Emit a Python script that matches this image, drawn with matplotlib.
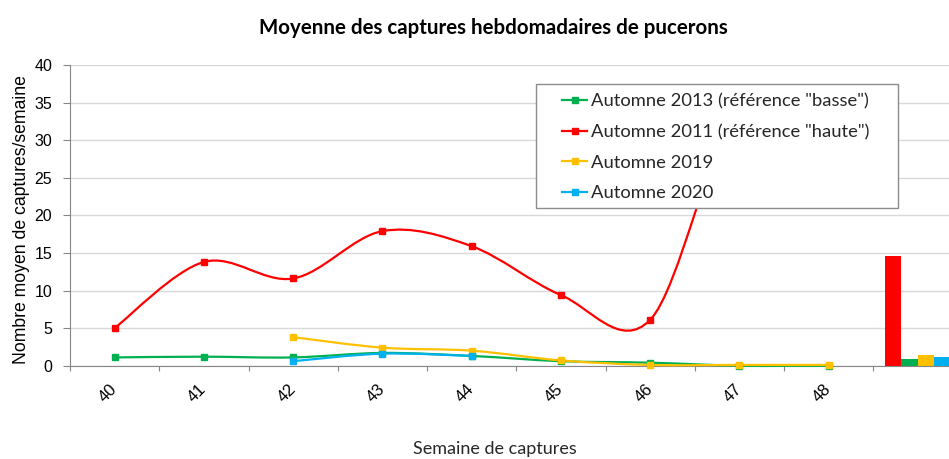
import numpy as np
import matplotlib
matplotlib.use('Agg')
import matplotlib.pyplot as plt
from matplotlib.path import Path
from matplotlib.patches import PathPatch, Rectangle
from matplotlib.lines import Line2D

plt.rcParams['font.family'] = ['Liberation Sans', 'DejaVu Sans']

# données (lecture du graphique)
semaines = ['40', '41', '42', '43', '44', '45', '46', '47', '48', '']
auto_2013 = [1.1, 1.2, 1.1, 1.7, 1.3, 0.6, 0.4, 0.0, 0.0]
auto_2011 = [5.0, 13.8, 11.6, 17.9, 15.9, 9.4, 6.1, 34.0, 28.0]   # 47/48 cachés par la légende
auto_2019 = [None, None, 3.8, 2.4, 2.0, 0.7, 0.1, 0.1, 0.1]
auto_2020 = [None, None, 0.6, 1.6, 1.3, None, None, None, None]
moyennes = [14.6, 0.9, 1.4, 1.2]   # barres : 2011, 2013, 2019, 2020

noms = ['Automne 2013 (référence "basse")', 'Automne 2011 (référence "haute")',
        'Automne 2019', 'Automne 2020']
couleurs = {'2013': '#00B050', '2011': '#FF0000', '2019': '#FFC000', '2020': '#00B0F0'}


def courbe_lisse(xs, ys):
    # bezier facon "ligne lissée" d'Excel
    verts = [(xs[0], ys[0])]
    codes = [Path.MOVETO]
    n = len(xs)
    for i in range(n - 1):
        a = i - 1 if i > 0 else i
        d = i + 2 if i + 2 < n else i + 1
        c1 = (xs[i] + (xs[i + 1] - xs[a]) / 6, ys[i] + (ys[i + 1] - ys[a]) / 6)
        c2 = (xs[i + 1] - (xs[d] - xs[i]) / 6, ys[i + 1] - (ys[d] - ys[i]) / 6)
        verts += [c1, c2, (xs[i + 1], ys[i + 1])]
        codes += [Path.CURVE4] * 3
    return Path(verts, codes)


fig = plt.figure(figsize=(9.49, 4.59), dpi=100)
ax = fig.add_axes([70 / 949, 1 - 365.7 / 459, 892.5 / 949, 300.7 / 459])

series = [(auto_2013, '2013', False), (auto_2011, '2011', True),
          (auto_2019, '2019', False), (auto_2020, '2020', False)]
for vals, cle, clip in series:
    xs = [i for i, v in enumerate(vals) if v is not None]
    ys = [v for v in vals if v is not None]
    patch = PathPatch(courbe_lisse(xs, ys), facecolor='none', edgecolor=couleurs[cle],
                      lw=1.6, zorder=3, clip_on=clip)
    ax.add_patch(patch)
    ax.plot(xs, ys, ls='none', marker='s', ms=4.8, color=couleurs[cle], zorder=4, clip_on=clip)

# barres de la dernière catégorie
decal = [-0.275, -0.092, 0.092, 0.275]
for off, val, cle in zip(decal, moyennes, ['2011', '2013', '2019', '2020']):
    ax.bar(9 + off, val, width=0.183, color=couleurs[cle], zorder=2)

ax.set_xlim(-0.5, 9.5)
ax.set_ylim(0, 40)
ax.set_yticks(range(0, 41, 5))
ax.tick_params(axis='y', labelsize=11.5, length=4.8, width=0.8, color='#868686', pad=8)
ax.set_xticks(range(10))
ax.set_xticklabels(semaines)
ax.set_xticks(np.arange(-0.5, 10, 1), minor=True)
ax.tick_params(axis='x', which='major', length=0, pad=15, labelsize=12)
ax.tick_params(axis='x', which='minor', length=3.8, width=0.8, color='#868686')
for lab in ax.get_xticklabels():
    lab.set_rotation(45)
    lab.set_rotation_mode('anchor')
    lab.set_ha('right')
    lab.set_va('center')
ax.grid(axis='y', color='#D9D9D9', lw=1)
ax.set_axisbelow(True)
for s in ['top', 'right']:
    ax.spines[s].set_visible(False)
ax.spines['left'].set_color('#868686')
ax.spines['bottom'].set_color('#868686')

fig.text(493 / 949, 1 - 28 / 459, 'Moyenne des captures hebdomadaires de pucerons',
         ha='center', va='center', fontsize=14.8, weight='bold', family=['Lato', 'DejaVu Sans'])
fig.text(495 / 949, 1 - 449 / 459, 'Semaine de captures', ha='center', va='center',
         fontsize=13, family=['Lato', 'DejaVu Sans'], color='#262626')
fig.text(21.7 / 949, 1 - 220 / 459, 'Nombre moyen de captures/semaine', rotation=90,
         ha='center', va='center', fontsize=12.7)

# légende
cadre = Rectangle((535.7 / 949, 1 - 208 / 459), 362.3 / 949, 124 / 459, transform=fig.transFigure,
                  facecolor='white', edgecolor='#8C8C8C', lw=1, zorder=10, clip_on=False)
ax.add_artist(cadre)
poignees = [Line2D([], [], color=couleurs[c], lw=1.6, marker='s', ms=4.8)
            for c in ['2013', '2011', '2019', '2020']]
leg = ax.legend(poignees, noms, loc='upper left', bbox_to_anchor=(561.7 / 949, 1 - 93.5 / 459),
                bbox_transform=fig.transFigure, frameon=False, borderpad=0, borderaxespad=0,
                handlelength=1.4, handletextpad=0.22, labelspacing=0.79,
                prop={'family': ['Lato', 'DejaVu Sans'], 'size': 13.2})
for t in leg.get_texts():
    t.set_color('#262626')
leg.set_zorder(11)

fig.savefig('out.png', dpi=100)
